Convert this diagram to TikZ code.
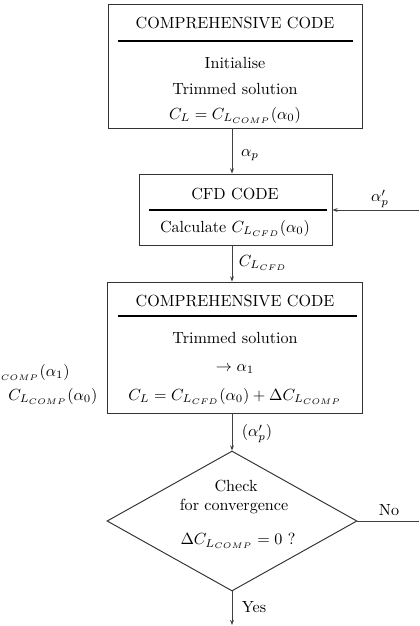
\documentclass[tikz,border=0pt]{standalone}
\usetikzlibrary{shapes.geometric,fit,arrows.meta}
\begin{document}
\begin{tikzpicture}[x=0.62pt,y=-0.62pt,
  box/.style={draw=black!80,line width=0.6pt,inner sep=0pt},
  sep/.style={line width=1.2pt},
  flow/.style={draw=black!75,line width=0.5pt,-{Stealth[length=3.2pt,width=2.4pt]}},
  plain/.style={draw=black!75,line width=0.5pt},
  txt/.style={inner sep=0pt},
  decision/.style={diamond,draw=black!80,line width=0.6pt,inner sep=0pt,minimum width=155pt,minimum height=86.8pt}]
\useasboundingbox (0,0) rectangle (419,626);
\clip (0,0) rectangle (419,626);

% box 1
\node[box,fit={(108,4) (362,128)}] (b1) {};
\node[txt] (b1t) at (235,23) {COMPREHENSIVE CODE};
\draw[sep] (118,41) -- (353,41);
\node[txt] (b1a) at (235,63) {Initialise};
\node[txt] (b1b) at (235,89) {Trimmed solution};
\node[txt] (b1c) at (235,115) {$C_L = C_{L_{COMP}}(\alpha_0)$};

% box 2
\node[box,fit={(139,174) (332,245)}] (b2) {};
\node[txt] (b2t) at (235,194) {CFD CODE};
\draw[sep] (149,210) -- (327,210);
\node[txt] (b2a) at (235,228) {Calculate $C_{L_{CFD}}(\alpha_0)$};

% box 3
\node[box,fit={(107,282) (362,413)}] (b3) {};
\node[txt] (b3t) at (235,301) {COMPREHENSIVE CODE};
\draw[sep] (118,316) -- (357,316);
\node[txt] (b3a) at (235,338) {Trimmed solution};
\node[txt] (b3b) at (235,369) {$\rightarrow \alpha_1$};
\node[txt] (b3c) at (235,396) {$C_L = C_{L_{CFD}}(\alpha_0) + \Delta C_{L_{COMP}}$};

% left labels (cut by the frame, as in the reference)
\node[txt,anchor=east] (l1) at (70,372) {$C_{L_{COMP}}(\alpha_1)$};
\node[txt,anchor=west] (l2) at (8,396) {$C_{L_{COMP}}(\alpha_0)$};

% decision
\node[decision] (d) at (232,521) {};
\node[txt] (d1) at (236,486) {Check};
\node[txt] (d2) at (234,506) {for convergence};
\node[txt] (d3) at (238,541) {$\Delta C_{L_{COMP}} = 0$ ?};

% free ends
\coordinate (inR) at (419,210);
\coordinate (outR) at (419,521);
\coordinate (outB) at (232,625);

% connectors
\draw[flow] (b1.south -| d.north) -- (b2.north -| d.north);
\draw[flow] (b2.south -| d.north) -- (b3.north -| d.north);
\draw[flow] (b3.south -| d.north) -- (d.north);
\draw[flow] (inR) -- (b2.east |- inR);
\draw[plain] (d.east) -- (outR);
\draw[flow] (d.south) -- (outB);

% connector labels
\node[txt] (lp) at (250,155) {$\alpha_p$};
\node[txt] (lpp) at (380,199) {$\alpha'_p$};
\node[txt] (lcfd) at (263,263) {$C_{L_{CFD}}$};
\node[txt] (lppb) at (257,434) {$(\alpha'_p)$};
\node[txt] (lno) at (389,510) {No};
\node[txt] (lyes) at (254,607) {Yes};
\end{tikzpicture}
\end{document}
